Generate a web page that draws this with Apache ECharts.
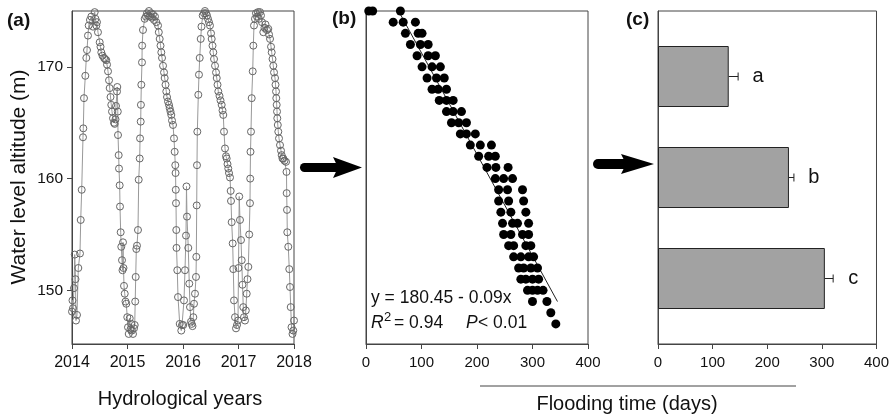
<!DOCTYPE html>
<html><head><meta charset="utf-8">
<script src="https://cdn.jsdelivr.net/npm/echarts@6/dist/echarts.min.js"></script>
<style>html,body{margin:0;padding:0;background:#fff}#c{width:892px;height:416px}</style>
</head><body><div id="c"></div>
<script>
// ---------- DATA ----------
// Panel (a): water level time series
const years = [2014.000,2014.009,2014.018,2014.036,2014.049,2014.063,2014.072,2014.090,2014.114,2014.144,2014.157,2014.175,2014.198,2014.204,2014.216,2014.240,2014.258,2014.270,2014.288,2014.301,2014.324,2014.348,2014.378,2014.409,2014.423,2014.438,2014.450,2014.468,2014.499,2014.514,2014.528,2014.550,2014.577,2014.595,2014.618,2014.631,2014.649,2014.667,2014.679,2014.694,2014.708,2014.721,2014.739,2014.757,2014.769,2014.784,2014.793,2014.811,2014.816,2014.825,2014.829,2014.841,2014.847,2014.859,2014.865,2014.877,2014.888,2014.901,2014.910,2014.919,2014.928,2014.937,2014.950,2014.964,2014.978,2014.996,2015.009,2015.022,2015.040,2015.054,2015.068,2015.081,2015.099,2015.117,2015.130,2015.139,2015.148,2015.159,2015.171,2015.189,2015.202,2015.220,2015.226,2015.238,2015.242,2015.249,2015.261,2015.264,2015.279,2015.310,2015.333,2015.351,2015.369,2015.387,2015.405,2015.423,2015.441,2015.459,2015.477,2015.495,2015.519,2015.550,2015.564,2015.580,2015.595,2015.609,2015.622,2015.640,2015.658,2015.670,2015.685,2015.699,2015.712,2015.730,2015.748,2015.760,2015.775,2015.789,2015.802,2015.820,2015.838,2015.850,2015.861,2015.866,2015.870,2015.874,2015.879,2015.883,2015.897,2015.910,2015.941,2015.969,2015.982,2016.005,2016.018,2016.036,2016.054,2016.063,2016.072,2016.095,2016.113,2016.126,2016.144,2016.157,2016.171,2016.186,2016.198,2016.216,2016.234,2016.240,2016.247,2016.252,2016.258,2016.276,2016.288,2016.301,2016.319,2016.333,2016.355,2016.378,2016.396,2016.414,2016.432,2016.450,2016.468,2016.486,2016.505,2016.517,2016.532,2016.546,2016.559,2016.577,2016.595,2016.608,2016.622,2016.636,2016.658,2016.676,2016.697,2016.712,2016.726,2016.739,2016.757,2016.775,2016.787,2016.802,2016.816,2016.829,2016.847,2016.859,2016.865,2016.877,2016.895,2016.906,2016.919,2016.937,2016.955,2016.973,2016.991,2017.000,2017.013,2017.027,2017.045,2017.058,2017.072,2017.086,2017.099,2017.117,2017.132,2017.148,2017.162,2017.177,2017.193,2017.207,2017.211,2017.216,2017.225,2017.238,2017.256,2017.267,2017.279,2017.297,2017.315,2017.333,2017.351,2017.369,2017.387,2017.405,2017.423,2017.447,2017.468,2017.486,2017.514,2017.537,2017.550,2017.568,2017.586,2017.598,2017.613,2017.627,2017.640,2017.658,2017.667,2017.676,2017.681,2017.688,2017.694,2017.699,2017.708,2017.717,2017.730,2017.748,2017.766,2017.778,2017.793,2017.807,2017.829,2017.856,2017.865,2017.868,2017.874,2017.879,2017.897,2017.915,2017.928,2017.941,2017.955,2017.973,2017.987,2018.000];
const levels = [148.1,149.1,148.4,150.2,153.2,151.0,147.3,147.8,152.0,153.3,156.3,159.0,163.7,164.5,167.2,169.2,170.8,171.5,172.8,173.7,174.2,174.5,173.6,174.9,174.3,173.7,174.0,173.1,172.2,171.8,171.3,171.0,170.8,170.7,170.6,170.2,169.6,168.8,168.1,167.3,166.6,166.0,165.4,165.0,164.9,165.3,166.5,167.8,168.2,166.0,163.9,162.1,160.9,159.4,157.5,155.2,153.9,152.7,151.8,154.3,152.0,150.4,149.7,149.0,148.8,147.6,146.7,146.1,147.5,146.5,147.0,146.4,146.1,146.6,146.9,149.0,151.2,153.7,154.0,155.4,159.9,161.8,163.6,165.1,166.6,168.4,170.4,171.9,173.3,174.3,174.5,174.8,174.6,175.0,174.5,174.8,174.4,174.7,174.2,174.5,174.0,173.7,173.1,172.5,171.9,171.3,170.8,170.1,169.5,169.0,168.4,167.8,167.3,166.9,166.6,166.3,166.0,165.7,165.2,164.8,163.6,162.4,161.2,160.5,159.0,157.8,155.4,153.8,151.8,149.4,147.0,146.4,146.9,146.9,149.1,151.8,154.9,159.3,156.6,153.8,150.6,148.5,147.2,147.0,146.8,147.6,148.8,149.7,151.2,153.0,157.6,161.2,164.2,167.5,169.3,170.8,172.5,173.6,174.6,174.8,175.0,174.8,174.6,174.3,174.0,173.7,173.0,172.5,171.9,171.3,170.7,170.1,169.5,169.0,168.4,167.8,167.4,167.0,166.6,166.1,165.7,164.2,162.7,162.0,161.8,161.3,160.9,160.5,160.1,158.9,158.0,156.1,154.2,151.9,149.1,147.6,146.6,146.9,147.3,152.0,158.4,156.3,154.5,152.7,150.5,148.5,147.6,147.3,148.2,149.7,151.0,152.1,155.0,157.8,160.0,162.4,164.2,167.2,169.6,171.9,173.7,174.3,174.8,174.5,174.9,174.3,174.9,174.6,174.0,173.1,173.5,173.8,173.3,173.4,172.9,172.5,171.8,171.3,170.7,170.1,169.5,169.0,168.4,167.8,167.2,166.6,166.0,165.4,164.8,164.2,163.6,163.0,162.5,162.1,161.8,161.8,161.6,161.5,160.6,158.7,157.2,155.2,153.9,151.9,150.3,148.5,146.7,146.1,146.4,147.3];
const yearTicks = [2014, 2015, 2016, 2017, 2018];
const levelTicks = [150, 160, 170];

// Panel (b): flooding time (days) for each water level row
const rowLevels = [175,174,173,172,171,170,169,168,167,166,165,164,163,162,161,160,159,158,157,156,155,154,153,152,151,150,149,148,147];
const rowDays = [
  [5,12,62],[49,67,89],[71,94,101],[80,98,112],[92,112,125],[101,119,134],[110,127,141],[119,130,145],
  [132,145,157],[145,157,172],[154,167,181],[170,181,197],[188,206,226],[203,221,233],[218,234,256],
  [233,248,264],[239,255,282],[239,257,284],[243,261,288],[246,264,273,293],[248,261,282,293],
  [257,266,288,297],[266,279,293,302],[275,284,297,309],[279,288,300,311],[291,300,309,319],
  [300,326],[333],[342]
];
const regDays = [62, 345];
const regLevels = [174.7, 149.0];
const dayTicks = [0, 100, 200, 300, 400];

// Panel (c): mean flooding time per zone
const barCats = ['c', 'b', 'a'];
const barMeans = [302, 237, 128];
const barErrs = [15, 9, 17];

// ---------- CHART ----------
const FONT = "'Liberation Sans', Arial, Helvetica, sans-serif";
const AX = '#444';
const TXT = '#111';
const chart = echarts.init(document.getElementById('c'), null, {renderer: 'canvas'});

const nPts = Math.min(years.length, levels.length);
const seriesA = [];
for (let i = 0; i < nPts; i++) seriesA.push([years[i], levels[i]]);
const seriesB = [];
rowLevels.forEach((lv, r) => (rowDays[r] || []).forEach(d => seriesB.push([d, lv])));
const regData = regDays.map((d, i) => [d, regLevels[i]]);

const tick = () => ({show: true, inside: false, length: 5, lineStyle: {color: AX, width: 1}});
const line = () => ({show: true, onZero: false, lineStyle: {color: AX, width: 1}});
const gridBase = {show: true, borderColor: AX, borderWidth: 1, backgroundColor: 'transparent', containLabel: false};

const option = {
  animation: false,
  backgroundColor: '#fff',
  grid: [
    Object.assign({left: 72, top: 11, width: 222, height: 333}, gridBase),
    Object.assign({left: 366, top: 11, width: 222, height: 333}, gridBase),
    Object.assign({left: 658, top: 11, width: 221, height: 333}, gridBase),
    {left: 658, top: 26, width: 221, height: 303, show: false, containLabel: false}
  ],
  xAxis: [
    {gridIndex: 0, type: 'value', min: yearTicks[0], max: yearTicks[yearTicks.length - 1], interval: 1,
      axisLine: line(), axisTick: tick(), splitLine: {show: false},
      axisLabel: {fontSize: 16, color: TXT, fontFamily: FONT, margin: 11, formatter: v => String(Math.round(v))}},
    {gridIndex: 1, type: 'value', min: dayTicks[0], max: dayTicks[dayTicks.length - 1], interval: 100,
      axisLine: line(), axisTick: tick(), splitLine: {show: false},
      axisLabel: {fontSize: 15, color: TXT, fontFamily: FONT, margin: 11}},
    {gridIndex: 2, type: 'value', min: dayTicks[0], max: dayTicks[dayTicks.length - 1], interval: 100,
      axisLine: line(), axisTick: tick(), splitLine: {show: false},
      axisLabel: {fontSize: 15, color: TXT, fontFamily: FONT, margin: 11}},
    {gridIndex: 3, type: 'value', min: dayTicks[0], max: dayTicks[dayTicks.length - 1], show: false, splitLine: {show: false}}
  ],
  yAxis: [
    {gridIndex: 0, type: 'value', min: 145.2, max: 175,
      axisLine: line(), splitLine: {show: false},
      axisTick: Object.assign(tick(), {customValues: levelTicks}),
      axisLabel: {customValues: levelTicks, fontSize: 15.5, color: TXT, fontFamily: FONT, margin: 9}},
    {gridIndex: 1, type: 'value', min: 145.2, max: 175,
      axisLine: line(), splitLine: {show: false}, axisTick: {show: false}, axisLabel: {show: false}},
    {gridIndex: 2, type: 'value', min: 0, max: 1,
      axisLine: line(), splitLine: {show: false}, axisTick: {show: false}, axisLabel: {show: false}},
    {gridIndex: 3, type: 'category', data: barCats, show: false}
  ],
  series: [
    {type: 'line', xAxisIndex: 0, yAxisIndex: 0, data: seriesA, clip: false, silent: true,
      symbol: 'circle', symbolSize: 7, showSymbol: true, showAllSymbol: true,
      itemStyle: {color: 'rgba(255,255,255,0)', borderColor: '#666', borderWidth: 1},
      lineStyle: {color: '#999', width: 1}, z: 3},
    {type: 'line', xAxisIndex: 1, yAxisIndex: 1, data: regData, symbol: 'none', silent: true, clip: false,
      lineStyle: {color: '#222', width: 1}, z: 2},
    {type: 'scatter', xAxisIndex: 1, yAxisIndex: 1, data: seriesB, clip: false, silent: true,
      symbol: 'circle', symbolSize: 9, itemStyle: {color: '#000', opacity: 1}, z: 3},
    {type: 'bar', xAxisIndex: 3, yAxisIndex: 3, data: barMeans, barWidth: 61, silent: true,
      itemStyle: {color: '#a2a2a2', borderColor: '#222', borderWidth: 1}, z: 2},
    {type: 'custom', xAxisIndex: 3, yAxisIndex: 3, silent: true, z: 4,
      data: barMeans.map((m, i) => [m, i, barErrs[i]]),
      encode: {x: 0, y: 1},
      renderItem: (params, api) => {
        const m = api.value(0), idx = api.value(1), e = api.value(2);
        const p0 = api.coord([m, idx]);
        const p1 = api.coord([m + e, idx]);
        return {type: 'group', children: [
          {type: 'line', shape: {x1: p0[0], y1: p0[1], x2: p1[0], y2: p1[1]}, style: {stroke: '#222', lineWidth: 1}},
          {type: 'line', shape: {x1: p1[0], y1: p1[1] - 4, x2: p1[0], y2: p1[1] + 4}, style: {stroke: '#222', lineWidth: 1}},
          {type: 'text', x: p1[0] + 20, y: p1[1], style: {text: barCats[params.dataIndex], fontSize: 20,
            fontFamily: FONT, fill: TXT, align: 'center', verticalAlign: 'middle'}}
        ]};
      }}
  ],
  graphic: [
    {type: 'text', x: 7, y: 21, style: {text: '(a)', fontSize: 19, fontWeight: 'bold', fontFamily: FONT, fill: TXT, align: 'left', verticalAlign: 'middle'}},
    {type: 'text', x: 332, y: 19, style: {text: '(b)', fontSize: 19, fontWeight: 'bold', fontFamily: FONT, fill: TXT, align: 'left', verticalAlign: 'middle'}},
    {type: 'text', x: 626, y: 20, style: {text: '(c)', fontSize: 19, fontWeight: 'bold', fontFamily: FONT, fill: TXT, align: 'left', verticalAlign: 'middle'}},
    {type: 'text', x: 19, y: 177, rotation: Math.PI / 2, style: {text: 'Water level altitude (m)', fontSize: 21, fontFamily: FONT, fill: TXT, align: 'center', verticalAlign: 'middle'}},
    {type: 'text', x: 180, y: 399, style: {text: 'Hydrological years', fontSize: 20, fontFamily: FONT, fill: TXT, align: 'center', verticalAlign: 'middle'}},
    {type: 'text', x: 627, y: 404, style: {text: 'Flooding time (days)', fontSize: 20, fontFamily: FONT, fill: TXT, align: 'center', verticalAlign: 'middle'}},
    {type: 'line', shape: {x1: 480, y1: 386, x2: 796, y2: 386}, style: {stroke: '#444', lineWidth: 1}},
    // equation
    {type: 'text', x: 371, y: 298, style: {text: 'y = 180.45 - 0.09x', fontSize: 17.5, fontFamily: FONT, fill: TXT, align: 'left', verticalAlign: 'middle'}},
    {type: 'text', x: 371, y: 323, style: {text: 'R', fontSize: 17.5, fontStyle: 'italic', fontFamily: FONT, fill: TXT, align: 'left', verticalAlign: 'middle'}},
    {type: 'text', x: 384, y: 317, style: {text: '2', fontSize: 13, fontFamily: FONT, fill: TXT, align: 'left', verticalAlign: 'middle'}},
    {type: 'text', x: 394, y: 323, style: {text: '= 0.94', fontSize: 17.5, fontFamily: FONT, fill: TXT, align: 'left', verticalAlign: 'middle'}},
    {type: 'text', x: 466, y: 323, style: {text: 'P', fontSize: 17.5, fontStyle: 'italic', fontFamily: FONT, fill: TXT, align: 'left', verticalAlign: 'middle'}},
    {type: 'text', x: 478, y: 323, style: {text: '< 0.01', fontSize: 17.5, fontFamily: FONT, fill: TXT, align: 'left', verticalAlign: 'middle'}},
    // arrows
    {type: 'rect', shape: {x: 300, y: 163, width: 40, height: 9, r: 4.5}, style: {fill: '#000'}},
    {type: 'polygon', shape: {points: [[333, 157], [362, 167.5], [333, 178], [338, 167.5]]}, style: {fill: '#000'}},
    {type: 'rect', shape: {x: 593, y: 159, width: 36, height: 10, r: 5}, style: {fill: '#000'}},
    {type: 'polygon', shape: {points: [[621, 154], [654, 164], [621, 174], [626, 164]]}, style: {fill: '#000'}}
  ]
};
chart.setOption(option);
</script>
</body></html>
